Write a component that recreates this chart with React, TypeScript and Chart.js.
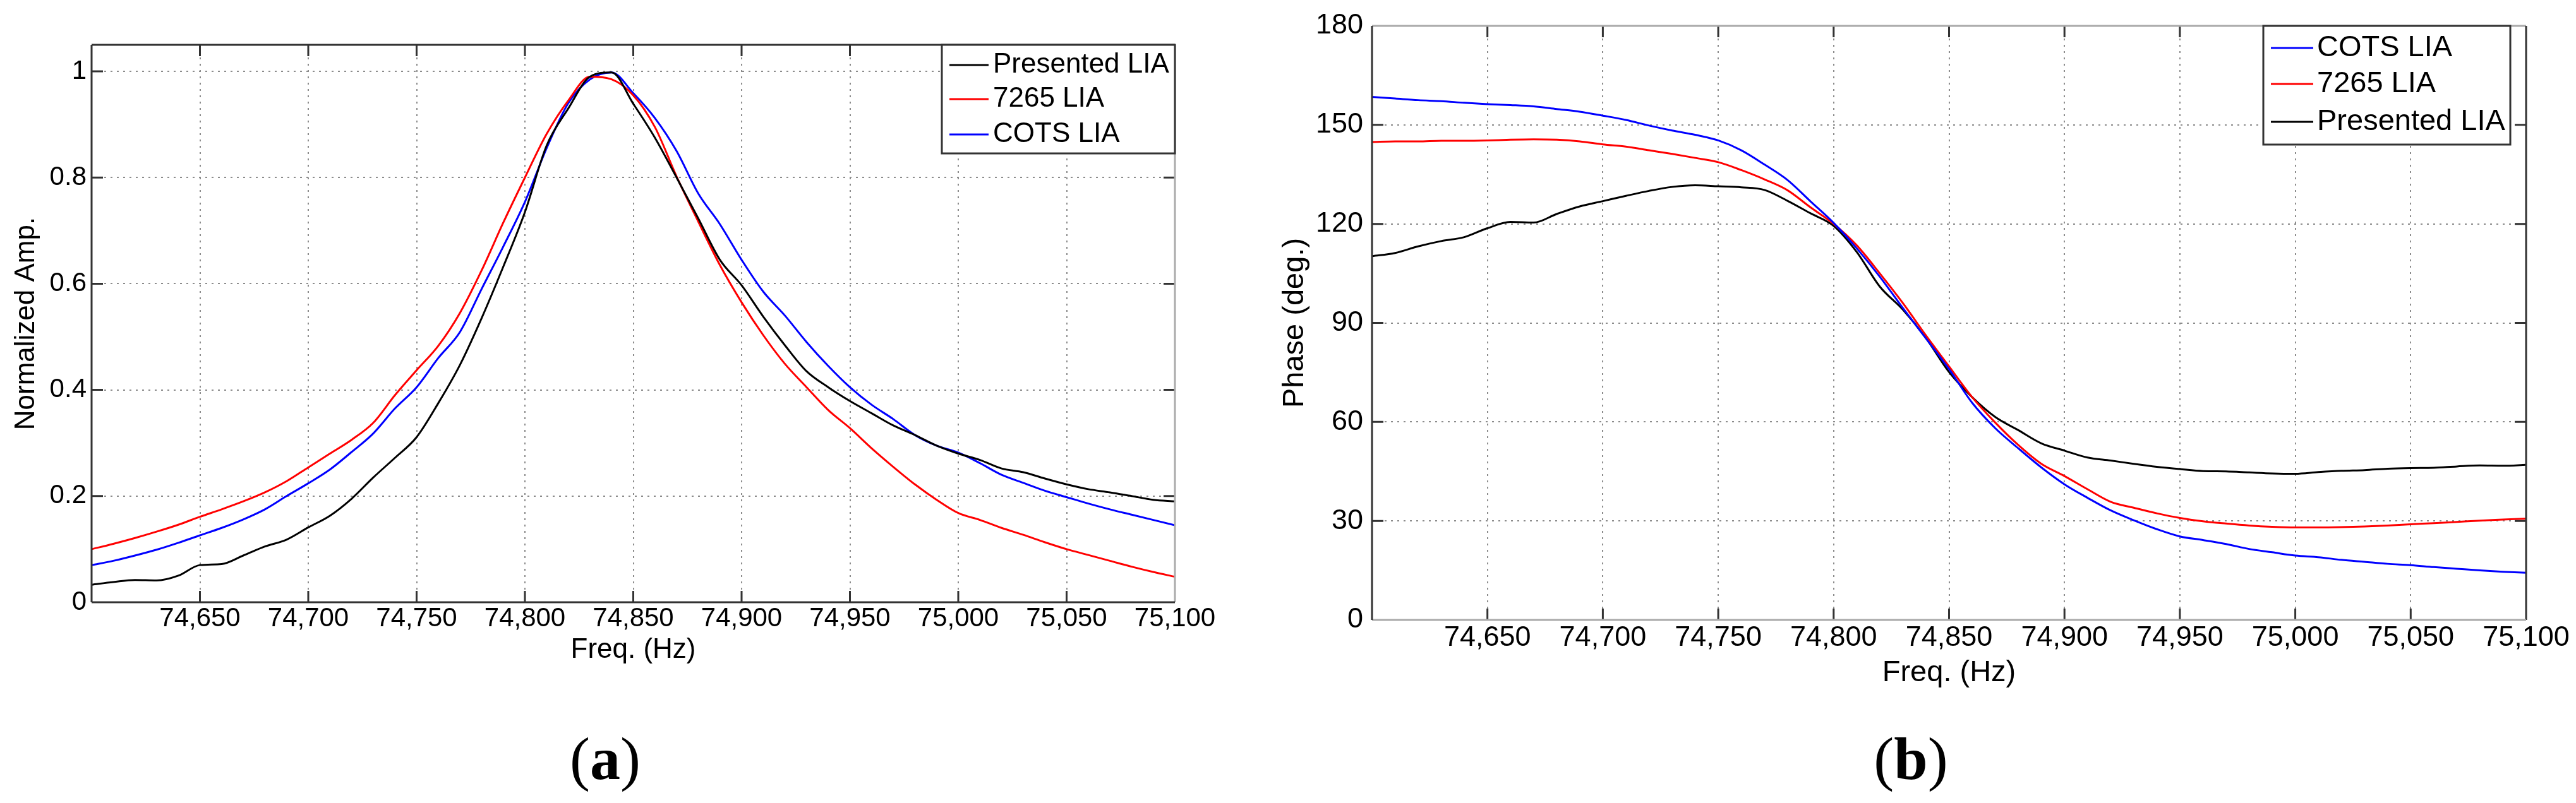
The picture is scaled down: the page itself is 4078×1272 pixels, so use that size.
import React, {useEffect, useRef} from 'react'
import {Chart, registerables} from 'chart.js'

Chart.register(...registerables)

const FONT = "'Liberation Sans', Arial, Helvetica, sans-serif"

// x values (Hz), shared by both panels
const freqHz = [
  74600, 74610, 74620, 74630, 74640, 74650, 74660, 74670, 74680, 74690,
  74700, 74710, 74720, 74730, 74740, 74750, 74760, 74770, 74780, 74790,
  74800, 74810, 74820, 74830, 74840, 74850, 74860, 74870, 74880, 74890,
  74900, 74910, 74920, 74930, 74940, 74950, 74960, 74970, 74980, 74990,
  75000, 75010, 75020, 75030, 75040, 75050, 75060, 75070, 75080, 75090,
  75100,
]

// (a) normalized amplitude
const ampPresented = [
  0.033, 0.038, 0.042, 0.041, 0.05, 0.07, 0.072, 0.088, 0.105, 0.118,
  0.141, 0.163, 0.195, 0.235, 0.272, 0.311, 0.375, 0.447, 0.535, 0.632,
  0.735, 0.86, 0.93, 0.99, 0.998, 0.939, 0.875, 0.8, 0.723, 0.645,
  0.597, 0.538, 0.484, 0.435, 0.405, 0.379, 0.356, 0.333, 0.315, 0.295,
  0.28, 0.268, 0.252, 0.245, 0.233, 0.222, 0.213, 0.207, 0.2, 0.193,
  0.19,
]
const amp7265 = [
  0.1, 0.11, 0.121, 0.133, 0.146, 0.161, 0.175, 0.19, 0.207, 0.228,
  0.254, 0.28, 0.306, 0.338, 0.39, 0.437, 0.483, 0.545, 0.625, 0.715,
  0.8, 0.882, 0.945, 0.99, 0.985, 0.955, 0.895, 0.802, 0.717, 0.635,
  0.565, 0.503, 0.449, 0.405, 0.362, 0.328, 0.29, 0.255, 0.222, 0.193,
  0.168, 0.155, 0.14, 0.127, 0.113, 0.1, 0.089, 0.078, 0.067, 0.057,
  0.048,
]
const ampCots = [
  0.07, 0.078, 0.088, 0.099, 0.112, 0.126, 0.14, 0.156, 0.175, 0.2,
  0.224, 0.25, 0.283, 0.318, 0.365, 0.405, 0.46, 0.509, 0.59, 0.67,
  0.754, 0.855, 0.94, 0.985, 0.998, 0.959, 0.912, 0.85, 0.77, 0.712,
  0.645, 0.585, 0.54, 0.49, 0.445, 0.405, 0.372, 0.345, 0.315, 0.295,
  0.282, 0.262, 0.24, 0.225, 0.21, 0.198, 0.186, 0.175, 0.165, 0.155,
  0.145,
]

// (b) phase in degrees
const phaseCots = [
  158.5, 158.0, 157.5, 157.2, 156.7, 156.3, 156.0, 155.6, 154.8, 154.0,
  152.8, 151.5, 149.8, 148.3, 147.0, 145.3, 142.3, 138.0, 133.3, 126.8,
  120.3, 112.6, 104.0, 94.5, 85.3, 76.0, 65.8, 58.1, 52.0, 46.2,
  41.1, 37.0, 33.2, 30.2, 27.5, 25.3, 24.2, 23.0, 21.5, 20.5,
  19.5, 19.0, 18.2, 17.6, 17.0, 16.6, 16.0, 15.5, 15.0, 14.6,
  14.3,
]
const phase7265 = [
  144.8, 145.0, 145.0, 145.2, 145.2, 145.3, 145.5, 145.6, 145.5, 145.0,
  144.1, 143.4, 142.3, 141.2, 140.0, 138.7, 136.3, 133.5, 130.2, 125.0,
  120.0, 113.5, 105.0, 96.0, 86.2, 76.8, 67.5, 59.8, 53.0, 47.3,
  43.6, 39.6, 35.8, 34.0, 32.3, 30.9, 29.9, 29.2, 28.6, 28.2,
  28.0, 28.0, 28.1, 28.3, 28.6, 29.0, 29.3, 29.7, 30.1, 30.4,
  30.7,
]
const phasePresented = [
  110.2, 111.2, 113.2, 114.8, 116.0, 118.7, 120.6, 120.4, 123.0, 125.3,
  126.9, 128.5, 130.0, 131.2, 131.7, 131.4, 131.1, 130.3, 127.0, 123.2,
  119.4, 111.5, 101.0, 94.0, 85.4, 75.1, 67.5, 61.5, 57.5, 53.5,
  51.3, 49.2, 48.3, 47.3, 46.4, 45.7, 45.1, 45.0, 44.7, 44.4,
  44.3, 44.8, 45.2, 45.4, 45.8, 46.0, 46.1, 46.5, 46.8, 46.7,
  47.0,
]

const toPoints = (values: number[]) => freqHz.map((f, i) => ({x: f, y: values[i]}))

// MATLAB style box with inward ticks on all four sides
const matlabFrame = {
  id: 'matlabFrame',
  afterDatasetsDraw(chart: any, _args: any, opts: any) {
    const {ctx, chartArea} = chart
    const {left, right, top, bottom} = chartArea
    const xs = chart.scales.x
    const ys = chart.scales.y
    const len = opts.tickLength
    ctx.save()
    ctx.lineWidth = 3
    ctx.strokeStyle = '#333'
    ctx.beginPath()
    xs.ticks.forEach((t: any) => {
      const px = xs.getPixelForValue(t.value)
      if (px <= left + 2 || px >= right - 2) return
      ctx.moveTo(px, bottom)
      ctx.lineTo(px, bottom - len)
      ctx.moveTo(px, top)
      ctx.lineTo(px, top + len)
    })
    ys.ticks.forEach((t: any) => {
      const py = ys.getPixelForValue(t.value)
      if (py <= top + 2 || py >= bottom - 2) return
      ctx.moveTo(left, py)
      ctx.lineTo(left + len, py)
      ctx.moveTo(right, py)
      ctx.lineTo(right - len, py)
    })
    ctx.stroke()
    const side = (color: string, x1: number, y1: number, x2: number, y2: number) => {
      ctx.strokeStyle = color
      ctx.beginPath()
      ctx.moveTo(x1, y1)
      ctx.lineTo(x2, y2)
      ctx.stroke()
    }
    side(opts.colors.top, left, top, right, top)
    side(opts.colors.right, right, top, right, bottom)
    side(opts.colors.bottom, left, bottom, right, bottom)
    side(opts.colors.left, left, top, left, bottom)
    ctx.restore()
  },
}

// boxed legend inside the plot, top right
const boxLegend = {
  id: 'boxLegend',
  afterDraw(chart: any, _args: any, o: any) {
    const {ctx, chartArea} = chart
    const x0 = chartArea.right - o.rightInset - o.width
    const y0 = chartArea.top
    ctx.save()
    ctx.fillStyle = '#fff'
    ctx.fillRect(x0, y0, o.width, o.height)
    ctx.lineWidth = 3
    ctx.strokeStyle = '#333'
    ctx.strokeRect(x0, y0, o.width, o.height)
    ctx.font = `${o.fontSize}px ${FONT}`
    ctx.textBaseline = 'middle'
    chart.data.datasets.forEach((ds: any, i: number) => {
      const cy = y0 + o.rows[i]
      ctx.strokeStyle = ds.borderColor
      ctx.lineWidth = 3
      ctx.beginPath()
      ctx.moveTo(x0 + o.lineStart, cy)
      ctx.lineTo(x0 + o.lineStart + o.lineLength, cy)
      ctx.stroke()
      ctx.fillStyle = '#000'
      ctx.fillText(ds.label, x0 + o.textStart, cy)
    })
    ctx.restore()
  },
}

type Series = {label: string; values: number[]; color: string}

type PanelProps = {
  left: number
  width: number
  height: number
  series: Series[]
  yMax: number
  yStep: number
  yTitle: string
  yFormat: (v: number) => string
  tickSize: number
  titleSize: number
  yAxisWidth: number
  xAxisHeight: number
  padTop: number
  padRight: number
  yTickPad: number
  xTickPad: number
  yTitlePad: number
  xTitlePad: number
  legend: any
  frameColors: any
}

const Panel: React.FC<PanelProps> = (p) => {
  const chartRef = useRef<HTMLCanvasElement | null>(null)

  useEffect(() => {
    if (!chartRef.current) {
      return
    }
    const chart = new Chart(chartRef.current, {
      type: 'line',
      data: {
        datasets: p.series.map((s) => ({
          label: s.label,
          data: toPoints(s.values),
          borderColor: s.color,
          backgroundColor: s.color,
          borderWidth: 3,
          pointRadius: 0,
          cubicInterpolationMode: 'monotone',
          fill: false,
        })),
      },
      plugins: [matlabFrame, boxLegend],
      options: {
        animation: false,
        responsive: true,
        maintainAspectRatio: false,
        devicePixelRatio: 1,
        layout: {padding: {top: p.padTop, right: p.padRight, left: 0, bottom: 0}},
        plugins: {
          legend: {display: false},
          tooltip: {enabled: false},
          matlabFrame: {tickLength: 18, colors: p.frameColors},
          boxLegend: p.legend,
        } as any,
        scales: {
          x: {
            type: 'linear',
            min: 74600,
            max: 75100,
            afterFit: (scale: any) => {
              scale.height = p.xAxisHeight
            },
            ticks: {
              stepSize: 50,
              autoSkip: false,
              maxRotation: 0,
              padding: p.xTickPad,
              color: '#000',
              font: {family: FONT, size: p.tickSize, lineHeight: 1.2},
              callback: (v: any) => (Number(v) === 74600 ? '' : Number(v).toLocaleString('en-US')),
            },
            grid: {color: '#8c8c8c', lineWidth: 2, drawTicks: false},
            border: {display: false, dash: [3, 7]},
            title: {
              display: true,
              text: 'Freq. (Hz)',
              color: '#000',
              font: {family: FONT, size: p.titleSize, lineHeight: 1.2},
              padding: {top: 0, bottom: p.xTitlePad},
            },
          },
          y: {
            type: 'linear',
            min: 0,
            max: p.yMax,
            afterFit: (scale: any) => {
              scale.width = p.yAxisWidth
            },
            ticks: {
              stepSize: p.yStep,
              includeBounds: false,
              padding: p.yTickPad,
              color: '#000',
              font: {family: FONT, size: p.tickSize, lineHeight: 1.2},
              callback: (v: any) => p.yFormat(Number(v)),
            },
            grid: {color: '#8c8c8c', lineWidth: 2, drawTicks: false},
            border: {display: false, dash: [3, 7]},
            title: {
              display: true,
              text: p.yTitle,
              color: '#000',
              font: {family: FONT, size: p.titleSize, lineHeight: 1.2},
              padding: {top: p.yTitlePad, bottom: 0},
            },
          },
        },
      } as any,
    })
    return () => {
      chart.destroy()
    }
  }, [p])

  return (
    <div style={{position: 'absolute', left: p.left, top: 0, width: p.width, height: p.height}}>
      <canvas ref={chartRef}></canvas>
    </div>
  )
}

const ampSeries: Series[] = [
  {label: 'Presented LIA', values: ampPresented, color: '#000000'},
  {label: '7265 LIA', values: amp7265, color: '#ff0000'},
  {label: 'COTS LIA', values: ampCots, color: '#0000ff'},
]

const phaseSeries: Series[] = [
  {label: 'COTS LIA', values: phaseCots, color: '#0000ff'},
  {label: '7265 LIA', values: phase7265, color: '#ff0000'},
  {label: 'Presented LIA', values: phasePresented, color: '#000000'},
]

const panelA: PanelProps = {
  left: 0,
  width: 2000,
  height: 1110,
  series: ampSeries,
  yMax: 1.05,
  yStep: 0.2,
  yTitle: 'Normalized Amp.',
  yFormat: (v) => String(Math.round(v * 10) / 10),
  tickSize: 42,
  titleSize: 44,
  yAxisWidth: 145,
  xAxisHeight: 156,
  padTop: 71,
  padRight: 140,
  yTickPad: 8,
  xTickPad: 1,
  yTitlePad: 15,
  xTitlePad: 54,
  legend: {
    width: 369,
    height: 172,
    rightInset: 0,
    rows: [32, 86, 142],
    lineStart: 12,
    lineLength: 62,
    textStart: 81,
    fontSize: 44,
  },
  frameColors: {top: '#333', right: '#aaa', bottom: '#333', left: '#333'},
}

const panelB: PanelProps = {
  left: 2000,
  width: 2078,
  height: 1110,
  series: phaseSeries,
  yMax: 180,
  yStep: 30,
  yTitle: 'Phase (deg.)',
  yFormat: (v) => String(v),
  tickSize: 45,
  titleSize: 47,
  yAxisWidth: 172,
  xAxisHeight: 128,
  padTop: 41,
  padRight: 79,
  yTickPad: 14,
  xTickPad: 2,
  yTitlePad: 22,
  xTitlePad: 16,
  legend: {
    width: 391,
    height: 188,
    rightInset: 25,
    rows: [35, 92, 152],
    lineStart: 12,
    lineLength: 67,
    textStart: 85,
    fontSize: 47,
  },
  frameColors: {top: '#aaa', right: '#333', bottom: '#aaa', left: '#333'},
}

const captionStyle: React.CSSProperties = {
  position: 'absolute',
  top: 1154,
  width: 400,
  textAlign: 'center',
  fontFamily: "'Liberation Serif', 'Times New Roman', serif",
  fontSize: 96,
  lineHeight: '96px',
  color: '#000',
}

export default function App() {
  useEffect(() => {
    document.body.style.margin = '0'
  }, [])

  return (
    <div style={{position: 'relative', width: 4078, height: 1272, background: '#fff', overflow: 'hidden'}}>
      <Panel {...panelA} />
      <Panel {...panelB} />
      <div style={{...captionStyle, left: 958 - 200}}>
        (<b>a</b>)
      </div>
      <div style={{...captionStyle, left: 3025 - 200}}>
        (<b>b</b>)
      </div>
    </div>
  )
}
